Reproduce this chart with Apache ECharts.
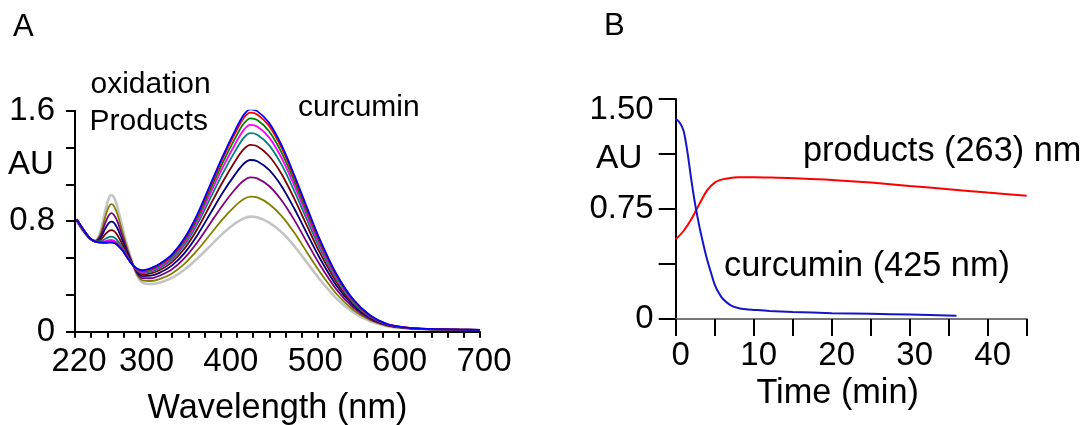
<!DOCTYPE html>
<html>
<head>
<meta charset="utf-8">
<script src="https://cdn.jsdelivr.net/npm/echarts@6/dist/echarts.min.js"></script>
<style>
  html, body { margin: 0; padding: 0; background: #fff; }
  #chart { width: 1086px; height: 425px; }
</style>
</head>
<body>
<div id="chart"></div>
<script>
// ---- Panel A: absorption spectra recorded during curcumin oxidation ----
const wavelengths = [222, 230, 238, 244, 250, 256, 260, 263, 266, 270, 276, 282, 288,
  294, 300, 310, 320, 335, 350, 365, 380, 395, 410, 420, 428, 436, 450, 465, 480, 495,
  510, 530, 550, 570, 590, 610, 630, 650, 675, 700];

const absBlue = [0.815, 0.74, 0.675, 0.652, 0.645, 0.643, 0.645, 0.645, 0.642, 0.628, 0.59, 0.535, 0.485,
  0.455, 0.445, 0.46, 0.49, 0.56, 0.68, 0.85, 1.06, 1.27, 1.46, 1.57, 1.61, 1.597, 1.512, 1.348, 1.132, 0.898,
  0.671, 0.416, 0.232, 0.117, 0.055, 0.032, 0.022, 0.018, 0.015, 0.013];
const absRed = [0.815, 0.74, 0.675, 0.652, 0.646, 0.645, 0.648, 0.648, 0.645, 0.631, 0.592, 0.536, 0.485,
  0.453, 0.442, 0.456, 0.486, 0.555, 0.673, 0.840, 1.046, 1.253, 1.439, 1.547, 1.586, 1.573, 1.490, 1.329, 1.116, 0.886,
  0.662, 0.411, 0.229, 0.116, 0.055, 0.032, 0.022, 0.018, 0.015, 0.013];
const absGreen = [0.815, 0.74, 0.675, 0.652, 0.647, 0.648, 0.651, 0.652, 0.649, 0.634, 0.593, 0.537, 0.485,
  0.450, 0.437, 0.450, 0.479, 0.546, 0.661, 0.823, 1.023, 1.223, 1.403, 1.507, 1.545, 1.532, 1.451, 1.295, 1.089, 0.865,
  0.647, 0.401, 0.224, 0.113, 0.054, 0.031, 0.022, 0.018, 0.015, 0.013];
const absMagenta = [0.814, 0.739, 0.675, 0.652, 0.649, 0.656, 0.663, 0.664, 0.660, 0.644, 0.599, 0.540, 0.486,
  0.447, 0.432, 0.443, 0.470, 0.535, 0.646, 0.803, 0.996, 1.188, 1.361, 1.461, 1.497, 1.485, 1.407, 1.256, 1.057, 0.840,
  0.629, 0.390, 0.219, 0.111, 0.053, 0.031, 0.021, 0.018, 0.015, 0.013];
const absTeal = [0.813, 0.738, 0.674, 0.653, 0.654, 0.673, 0.685, 0.688, 0.684, 0.663, 0.611, 0.546, 0.487,
  0.443, 0.425, 0.434, 0.460, 0.522, 0.629, 0.779, 0.962, 1.145, 1.309, 1.403, 1.437, 1.426, 1.351, 1.208, 1.018, 0.809,
  0.606, 0.377, 0.211, 0.108, 0.052, 0.030, 0.021, 0.017, 0.015, 0.013];
const absMaroon = [0.811, 0.736, 0.674, 0.654, 0.665, 0.706, 0.729, 0.736, 0.730, 0.702, 0.635, 0.557, 0.489,
  0.437, 0.415, 0.422, 0.445, 0.504, 0.604, 0.744, 0.914, 1.084, 1.236, 1.321, 1.352, 1.342, 1.272, 1.140, 0.962, 0.766,
  0.574, 0.358, 0.201, 0.103, 0.050, 0.030, 0.021, 0.017, 0.014, 0.013];
const absNavy = [0.808, 0.733, 0.673, 0.656, 0.678, 0.748, 0.786, 0.797, 0.789, 0.752, 0.665, 0.572, 0.492,
  0.429, 0.403, 0.406, 0.426, 0.480, 0.571, 0.699, 0.852, 1.006, 1.141, 1.216, 1.243, 1.234, 1.171, 1.052, 0.890, 0.710,
  0.534, 0.333, 0.189, 0.097, 0.048, 0.029, 0.020, 0.017, 0.014, 0.013];
const absPurple = [0.806, 0.731, 0.672, 0.657, 0.691, 0.789, 0.842, 0.858, 0.847, 0.802, 0.695, 0.587, 0.494,
  0.420, 0.388, 0.387, 0.405, 0.452, 0.534, 0.647, 0.781, 0.916, 1.033, 1.095, 1.118, 1.110, 1.055, 0.950, 0.808, 0.646,
  0.487, 0.305, 0.174, 0.090, 0.046, 0.028, 0.019, 0.016, 0.014];
const absOlive = [0.803, 0.728, 0.671, 0.658, 0.706, 0.835, 0.904, 0.924, 0.912, 0.856, 0.728, 0.604, 0.497,
  0.410, 0.372, 0.367, 0.380, 0.422, 0.493, 0.590, 0.702, 0.815, 0.911, 0.960, 0.978, 0.972, 0.925, 0.837, 0.716, 0.574,
  0.434, 0.273, 0.157, 0.083, 0.043, 0.026, 0.019, 0.016];
const absGray = [0.800, 0.725, 0.670, 0.660, 0.720, 0.880, 0.965, 0.990, 0.975, 0.910, 0.760, 0.620, 0.500,
  0.400, 0.355, 0.345, 0.355, 0.390, 0.450, 0.530, 0.620, 0.710, 0.785, 0.820, 0.833, 0.828, 0.790, 0.720, 0.620, 0.500,
  0.380, 0.240, 0.140, 0.075, 0.040, 0.025, 0.018];

const wavelengthLabels = [220, 300, 400, 500, 600, 700];
const spectrumTickValues = [0, 0.8, 1.6];
const spectrumTickText = ['0', '0.8', '1.6'];

// ---- Panel B: absorbance vs time ----
const curcuminTime = [0, 0.5, 1, 1.5, 2, 2.5, 3, 3.5, 4, 4.5, 5, 5.5, 6, 7, 8, 9, 10, 12, 15, 20, 25, 30, 36];
const curcuminAbs = [1.365, 1.34, 1.285, 1.14, 0.95, 0.78, 0.64, 0.52, 0.41, 0.32, 0.235, 0.18, 0.14, 0.095,
  0.075, 0.066, 0.062, 0.055, 0.048, 0.04, 0.035, 0.03, 0.022];
const productsTime = [0, 1, 2, 3, 4, 5, 6, 7, 8, 10, 13, 16, 20, 25, 30, 35, 40, 45];
const productsAbs = [0.543, 0.6, 0.68, 0.78, 0.875, 0.93, 0.952, 0.962, 0.966, 0.967, 0.963, 0.958, 0.948,
  0.93, 0.907, 0.885, 0.862, 0.84];

const timeLabels = [0, 10, 20, 30, 40];
const kineticTickValues = [0, 0.75, 1.5];
const kineticTickText = ['0', '0.75', '1.50'];

const FONT = '"Liberation Sans", Arial, Helvetica, sans-serif';
const near = (a, b) => Math.abs(a - b) < 1e-6;
const pick = (vals, texts) => v => {
  for (let i = 0; i < vals.length; i++) if (near(v, vals[i])) return texts[i];
  return '';
};
const pairs = (xs, ys) => ys.map((y, i) => [xs[i], y]);

const spectra = [
  { data: absGray, color: '#c4c4c4', width: 2.6 },
  { data: absOlive, color: '#808000', width: 1.8 },
  { data: absPurple, color: '#800080', width: 1.8 },
  { data: absNavy, color: '#000080', width: 1.8 },
  { data: absMaroon, color: '#800000', width: 1.8 },
  { data: absTeal, color: '#008080', width: 1.8 },
  { data: absMagenta, color: '#ff00ff', width: 1.8 },
  { data: absGreen, color: '#008000', width: 1.8 },
  { data: absRed, color: '#ff0000', width: 1.8 },
  { data: absBlue, color: '#0000ff', width: 1.8 }
];

const labelStyle = { color: '#000', fontSize: 33, fontFamily: FONT };
const nameStyle = { color: '#000', fontSize: 34.3, fontFamily: FONT };
const black = { color: '#000', width: 2 };

const option = {
  animation: false,
  backgroundColor: '#fff',
  grid: [
    { left: 75, top: 110.7, width: 405, height: 221, outerBoundsMode: 'none' },
    { left: 675.7, top: 99, width: 351, height: 220, outerBoundsMode: 'none' }
  ],
  xAxis: [
    { // spectrum: minor tick marks
      gridIndex: 0, type: 'value', position: 'bottom', min: 220, max: 700, interval: 19.2,
      axisLine: { lineStyle: black },
      axisTick: { show: true, inside: false, length: 6, lineStyle: black },
      axisLabel: { show: false }, splitLine: { show: false }
    },
    { // spectrum: wavelength labels
      gridIndex: 0, type: 'value', position: 'bottom', min: 220, max: 700, interval: 20,
      axisLine: { show: false }, axisTick: { show: false }, splitLine: { show: false },
      axisLabel: Object.assign({}, labelStyle, { margin: 14, padding: [0, 0, 0, 8],
        formatter: pick(wavelengthLabels, wavelengthLabels.map(String)) }),
      name: 'Wavelength (nm)', nameLocation: 'middle', nameGap: 60,
      nameTextStyle: nameStyle
    },
    { // kinetics: time
      gridIndex: 1, type: 'value', position: 'bottom', min: 0, max: 45, interval: 5,
      axisLine: { lineStyle: { color: '#777', width: 2 } },
      axisTick: { show: true, inside: false, length: 17, lineStyle: black },
      splitLine: { show: false },
      axisLabel: Object.assign({}, labelStyle, { margin: 20, padding: [0, 0, 0, 10],
        formatter: pick(timeLabels, timeLabels.map(String)) }),
      name: 'Time (min)', nameLocation: 'middle', nameGap: 57,
      nameTextStyle: Object.assign({}, nameStyle, { padding: [0, 27, 0, 0] })
    }
  ],
  yAxis: [
    {
      gridIndex: 0, type: 'value', min: 0, max: 1.6, interval: 1.6 / 6,
      axisLine: { show: true, lineStyle: black },
      axisTick: { show: true, inside: false, length: 9, lineStyle: black },
      splitLine: { show: false },
      axisLabel: Object.assign({}, labelStyle, { margin: 20,
        formatter: pick(spectrumTickValues, spectrumTickText) })
    },
    {
      gridIndex: 1, type: 'value', min: 0, max: 1.5, interval: 0.375,
      axisLine: { show: true, lineStyle: black },
      axisTick: { show: true, inside: false, length: 17, lineStyle: black },
      splitLine: { show: false },
      axisLabel: Object.assign({}, labelStyle, { margin: 22,
        formatter: v => {
          const t = pick(kineticTickValues, kineticTickText)(v);
          return near(v, 1.5) ? '{top|' + t + '}' : t;
        },
        rich: { top: { fontSize: 33, fontFamily: FONT, color: '#000', padding: [22, 0, 0, 0] } }
      })
    }
  ],
  series: spectra.map(s => ({
    type: 'line', xAxisIndex: 0, yAxisIndex: 0,
    data: pairs(wavelengths, s.data),
    showSymbol: false, smooth: 0.3,
    lineStyle: { color: s.color, width: s.width }
  })).concat([
    {
      type: 'line', xAxisIndex: 2, yAxisIndex: 1, data: pairs(productsTime, productsAbs),
      showSymbol: false, smooth: 0.3, lineStyle: { color: '#ff0000', width: 2 }
    },
    {
      type: 'line', xAxisIndex: 2, yAxisIndex: 1, data: pairs(curcuminTime, curcuminAbs),
      showSymbol: false, smooth: 0.3, lineStyle: { color: '#1414c8', width: 2 }
    }
  ]),
  graphic: [
    ['A', 13, 27.5, 31], ['B', 604, 26.5, 31],
    ['oxidation', 90.5, 84.6, 30], ['Products', 89.5, 121.3, 30], ['curcumin', 298, 107.9, 30],
    ['AU', 8, 165.3, 33], ['AU', 596, 158.6, 33.5],
    ['products (263) nm', 803, 151.5, 34.3], ['curcumin (425 nm)', 724, 266.5, 34.3]
  ].map(([text, x, y, size]) => ({
    type: 'text', x: x, y: y,
    style: { text: text, fontSize: size, fontFamily: FONT, fill: '#000', verticalAlign: 'middle', align: 'left' }
  }))
};

echarts.init(document.getElementById('chart')).setOption(option);
</script>
</body>
</html>
